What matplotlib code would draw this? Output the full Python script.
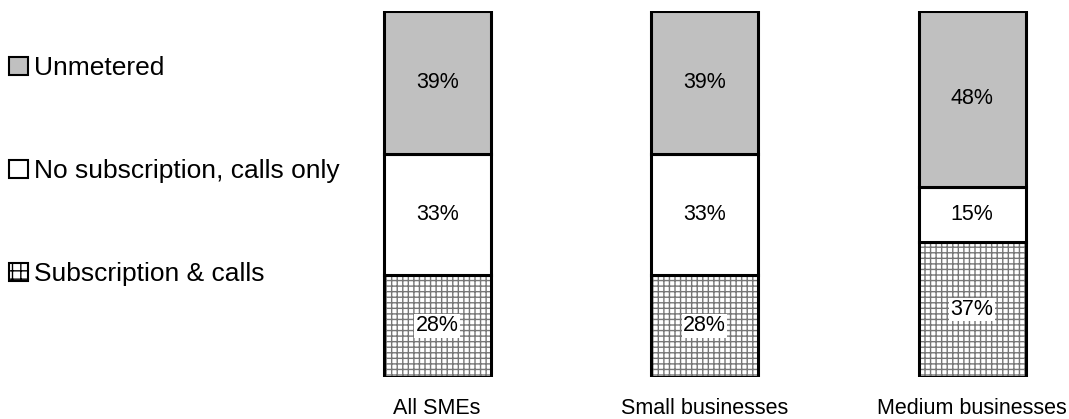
import numpy as np
import matplotlib
matplotlib.use('Agg')
import matplotlib.pyplot as plt
from matplotlib.patches import Patch

# data
groups = ['All SMEs', 'Small businesses', 'Medium businesses']
subscription = [28, 28, 37]
no_subscription = [33, 33, 15]
unmetered = [39, 39, 48]

plt.rcParams['font.family'] = ['Liberation Sans', 'DejaVu Sans']
plt.rcParams['hatch.linewidth'] = 1.0

fig = plt.figure(figsize=(10.69, 4.19), dpi=100)
ax = fig.add_axes([0.2713, 0.1002, 0.7256, 0.8735])

x = np.arange(len(groups))
w = 0.40
sub = np.array(subscription) / 100.0
nos = np.array(no_subscription) / 100.0
unm = np.array(unmetered) / 100.0

# hatched bottom segment: grey grid, black outline drawn on top
ax.bar(x, sub, w, color='white', edgecolor='#777777', hatch='+++', linewidth=0)
ax.bar(x, sub, w, fill=False, edgecolor='black', linewidth=2.2)
ax.bar(x, nos, w, bottom=sub, color='white', edgecolor='black', linewidth=2.2)
ax.bar(x, unm, w, bottom=sub + nos, color='#c0c0c0', edgecolor='black', linewidth=2.2)

for i in range(len(groups)):
    ax.text(x[i], sub[i] / 2, '%d%%' % subscription[i], ha='center', va='center',
            fontsize=15.5, bbox=dict(facecolor='white', edgecolor='none', pad=1))
    ax.text(x[i], sub[i] + nos[i] / 2, '%d%%' % no_subscription[i], ha='center',
            va='center', fontsize=15.5)
    ax.text(x[i], sub[i] + nos[i] + unm[i] / 2, '%d%%' % unmetered[i], ha='center',
            va='center', fontsize=15.5)

ax.set_xlim(-0.55, 2.35)
ax.set_ylim(0, 1)
ax.set_xticks(x)
ax.set_xticklabels(groups, fontsize=15.5)
ax.tick_params(axis='x', length=0, pad=15)
ax.set_yticks([])
for s in ax.spines.values():
    s.set_visible(False)

handles = [Patch(facecolor='#c0c0c0', edgecolor='black', linewidth=1.5),
           Patch(facecolor='white', edgecolor='black', linewidth=1.5),
           Patch(facecolor='white', edgecolor='black', hatch='++', linewidth=1.5)]
labels = ['Unmetered', 'No subscription, calls only', 'Subscription & calls']
fig.legend(handles, labels, loc='upper left', bbox_to_anchor=(-0.0012, 0.8915),
           frameon=False, fontsize=19, handlelength=0.7, handleheight=0.7,
           handletextpad=0.25, labelspacing=3.0, borderaxespad=0)

plt.savefig('out.png', dpi=100)
